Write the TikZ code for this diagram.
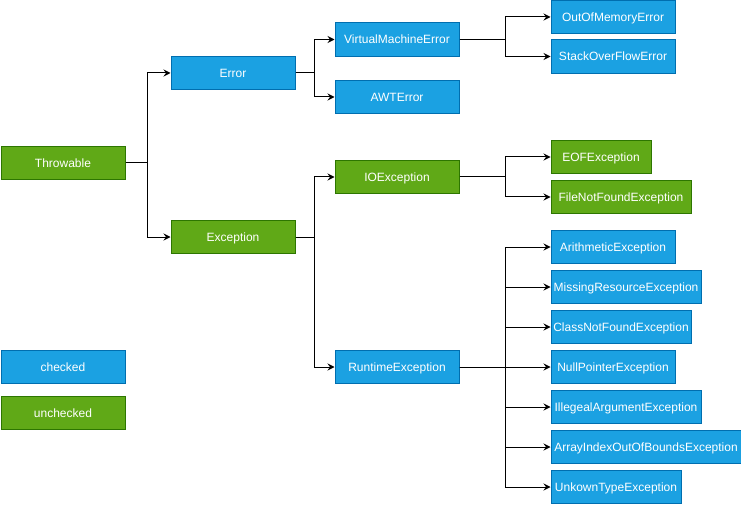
\documentclass[tikz,border=0pt]{standalone}
\usepackage{fontspec}
\setmainfont{Liberation Sans}
\usetikzlibrary{arrows.meta}
\definecolor{chkfill}{HTML}{1BA1E2}
\definecolor{chkline}{HTML}{006EAF}
\definecolor{unfill}{HTML}{60A917}
\definecolor{unline}{HTML}{2D7600}

\begin{document}
\begin{tikzpicture}[x=1pt, y=-1pt,
    box/.style={line width=1pt, text=white, font=\fontsize{12}{14}\selectfont,
        minimum height=33.5pt, minimum width=124pt, inner sep=0pt, anchor=west,
        text height=8.6pt, text depth=0pt},
    chk/.style={box, draw=chkline, fill=chkfill},
    unchk/.style={box, draw=unline, fill=unfill},
    arr/.style={line width=1pt, -{Stealth[length=7pt, width=7pt, inset=2.5pt]}}]
    \useasboundingbox (0,0) rectangle (741,505);

    % Root and first level
    \node[unchk] (thr) at (0.5,163) {Throwable};
    \node[chk] (err) at (170.5,73) {Error};
    \node[unchk] (exc) at (170.5,237) {Exception};

    % Second level
    \node[chk] (vme) at (334.5,39.5) {VirtualMachineError};
    \node[chk] (awt) at (334.5,97) {AWTError};
    \node[unchk] (ioe) at (334.5,177) {IOException};
    \node[chk] (rte) at (334.5,367) {RuntimeException};

    % Leaves
    \node[chk] (oom) at (550.5,17) {OutOfMemoryError};
    \node[chk] (sof) at (550.5,56.5) {StackOverFlowError};
    \node[unchk, minimum width=100pt] (eof) at (550.5,157) {EOFException};
    \node[unchk, minimum width=140pt] (fnf) at (550.5,197) {FileNotFoundException};
    \node[chk] (arith) at (550.5,247) {ArithmeticException};
    \node[chk, minimum width=150pt] (missing) at (550.5,287) {MissingResourceException};
    \node[chk, minimum width=140pt] (classnf) at (550.5,327) {ClassNotFoundException};
    \node[chk] (nullptr) at (550.5,367) {NullPointerException};
    \node[chk, minimum width=150pt] (illarg) at (550.5,407) {IllegealArgumentException};
    \node[chk, minimum width=190pt] (arridx) at (550.5,447) {ArrayIndexOutOfBoundsException};
    \node[chk, minimum width=130pt] (unktype) at (550.5,487) {UnkownTypeException};

    % Legend
    \node[chk] (legchk) at (0.5,367) {checked};
    \node[unchk] (legunchk) at (0.5,413) {unchecked};

    % Connectors
    \draw[arr] (thr.east) -- ++(22,0) |- (err.west);
    \draw[arr] (thr.east) -- ++(22,0) |- (exc.west);
    \draw[arr] (err.east) -- ++(19,0) |- (vme.west);
    \draw[arr] (err.east) -- ++(19,0) |- (awt.west);
    \draw[arr] (exc.east) -- ++(19,0) |- (ioe.west);
    \draw[arr] (exc.east) -- ++(19,0) |- (rte.west);
    \draw[arr] (vme.east) -- ++(45.5,0) |- (oom.west);
    \draw[arr] (vme.east) -- ++(45.5,0) |- (sof.west);
    \draw[arr] (ioe.east) -- ++(45.5,0) |- (eof.west);
    \draw[arr] (ioe.east) -- ++(45.5,0) |- (fnf.west);
    \draw[arr] (rte.east) -- ++(45.5,0) |- (arith.west);
    \draw[arr] (rte.east) -- ++(45.5,0) |- (missing.west);
    \draw[arr] (rte.east) -- ++(45.5,0) |- (classnf.west);
    \draw[arr] (rte.east) -- (nullptr.west);
    \draw[arr] (rte.east) -- ++(45.5,0) |- (illarg.west);
    \draw[arr] (rte.east) -- ++(45.5,0) |- (arridx.west);
    \draw[arr] (rte.east) -- ++(45.5,0) |- (unktype.west);
\end{tikzpicture}
\end{document}
